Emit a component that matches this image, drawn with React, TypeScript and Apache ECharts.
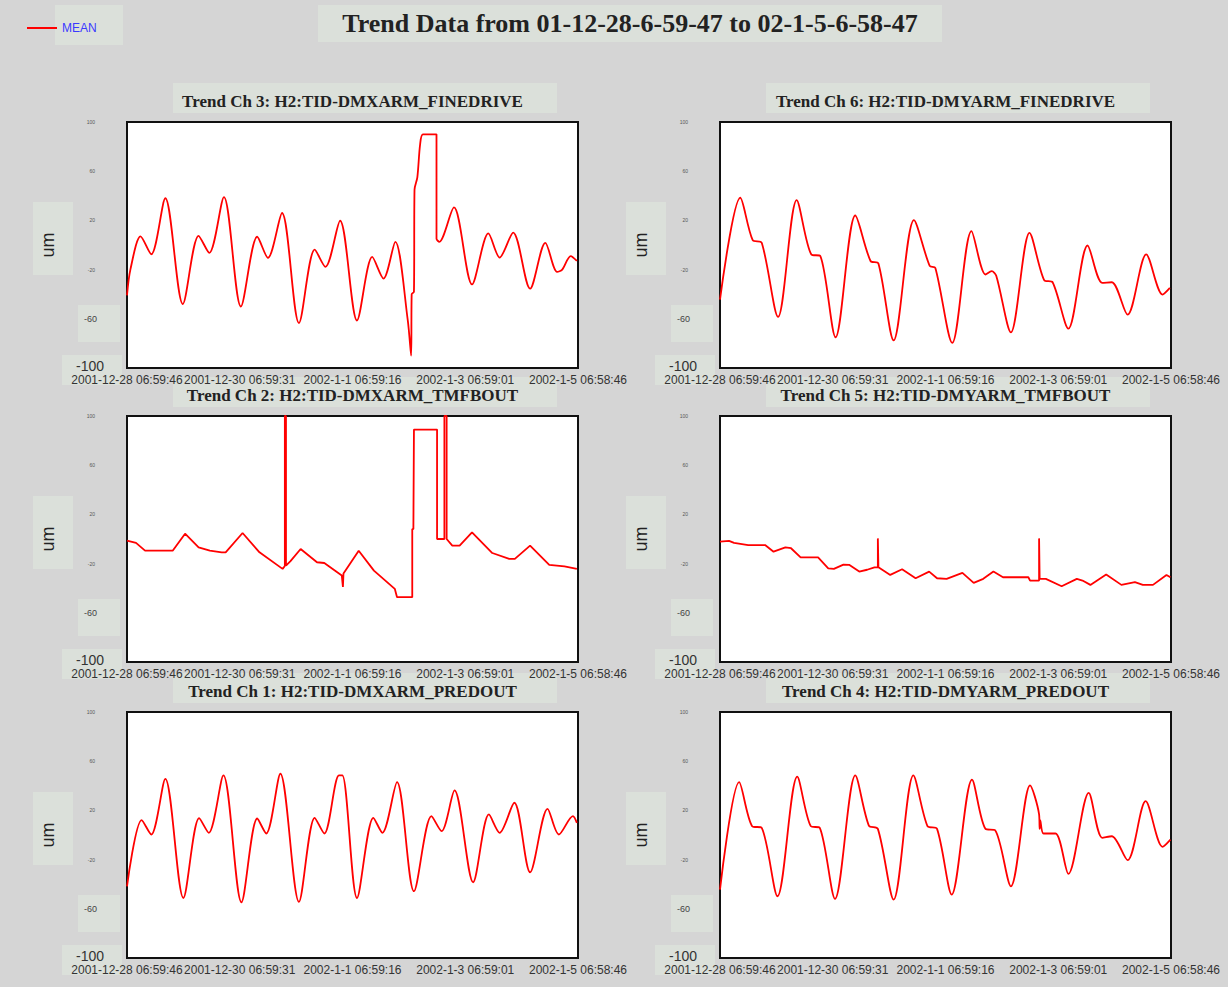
import React, { useEffect, useRef } from "react";
import * as echarts from "echarts";

const MAIN_TITLE = "Trend Data from 01-12-28-6-59-47 to 02-1-5-6-58-47";
const LEGEND_NAME = "MEAN";
const UNIT = "um";
const X_LABELS = [
  "2001-12-28 06:59:46",
  "2001-12-30 06:59:31",
  "2002-1-1 06:59:16",
  "2002-1-3 06:59:01",
  "2002-1-5 06:58:46",
];
const Y_LABELS = ["-100", "-60", "-20", "20", "60", "100"];

const PANEL_TITLES = [
  "Trend Ch 3: H2:TID-DMXARM_FINEDRIVE",
  "Trend Ch 6: H2:TID-DMYARM_FINEDRIVE",
  "Trend Ch 2: H2:TID-DMXARM_TMFBOUT",
  "Trend Ch 5: H2:TID-DMYARM_TMFBOUT",
  "Trend Ch 1: H2:TID-DMXARM_PREDOUT",
  "Trend Ch 4: H2:TID-DMYARM_PREDOUT",
];

// [day offset from start, value in um]
const CH3: number[][] = [
  [0, -41], [0.06, -20], [0.24, 7], [0.43, -7.5], [0.68, 38], [0.99, -48], [1.27, 7.5], [1.46, -6.4],
  [1.72, 39], [2.02, -50], [2.31, 6.7], [2.5, -10.5], [2.75, 26], [3.05, -63.5], [3.33, -3.7], [3.52, -17.8],
  [3.78, 19.7], [4.08, -61.4], [4.35, -9.7], [4.55, -27.3], [4.76, 2.6], [4.98, -61], [5.04, -90], [5.05, -40],
  [5.09, -38], [5.1, 45], [5.15, 55], [5.2, 82], [5.25, 90], [5.49, 90], [5.49, 5], [5.54, 2.6],
  [5.8, 30.6], [6.12, -32], [6.41, 9.4], [6.61, -10.2], [6.85, 10], [7.15, -35.5], [7.42, 1.8], [7.63, -21.9],
  [7.72, -20], [7.87, -9], [7.98, -13],
];
const CH6: number[][] = [
  [0, -44.4], [0.36, 38.4], [0.58, 3.9], [0.74, 1.8], [1.03, -58.5], [1.36, 36.5], [1.62, -7.7], [1.78, -9],
  [2.05, -75], [2.4, 24], [2.67, -13], [2.81, -15], [3.08, -77.5], [3.44, 20.2], [3.72, -17], [3.82, -18.6],
  [4.12, -79.6], [4.46, 11.3], [4.71, -24], [4.82, -21.3], [4.9, -25], [5.16, -71], [5.49, 9.9], [5.75, -28.6],
  [5.9, -30.3], [6.18, -68], [6.52, -0.4], [6.78, -30.8], [6.95, -30.3], [7.23, -56.6], [7.56, -7.7], [7.85, -40.3],
  [7.98, -34.9],
];
const CH2: number[][] = [
  [0, -1.4], [0.16, -3.2], [0.32, -9.5], [0.81, -9.5], [1.03, 4.3], [1.27, -6.8], [1.47, -9.5], [1.68, -10.8],
  [1.75, -10.8], [2.05, 4.9], [2.35, -10.8], [2.76, -24.3], [2.8, -22], [2.8, 100], [2.82, 100], [2.82, -21.6],
  [2.9, -18], [3.08, -8.1], [3.37, -18.9], [3.5, -19.5], [3.81, -29.7], [3.83, -39], [3.84, -28], [4.11, -9.5],
  [4.38, -25.7], [4.75, -40.5], [4.79, -47.3], [5.06, -47.3], [5.06, 8.1], [5.08, 8.1], [5.09, 89], [5.5, 89],
  [5.5, 0], [5.63, 0], [5.63, 100], [5.67, 100], [5.67, 0], [5.77, -5.4], [5.9, -5.4], [6.12, 5.4],
  [6.48, -11.4], [6.78, -16.2], [6.88, -16.2], [7.15, -5.4], [7.49, -21], [7.76, -22.2], [7.98, -24.3],
];
const CH5: number[][] = [
  [0, -2.2], [0.16, -1.5], [0.25, -3.2], [0.5, -4.9], [0.8, -4.9], [0.95, -10.3], [1.16, -6.8], [1.26, -7.5],
  [1.43, -14.9], [1.74, -14.9], [1.92, -23.8], [2.02, -24.3], [2.19, -20.8], [2.29, -21], [2.47, -26.5], [2.61, -25],
  [2.74, -23], [2.8, -23], [2.8, 0.5], [2.81, 0.5], [2.81, -23], [3.02, -29.2], [3.23, -24.6], [3.47, -31.9],
  [3.71, -26.5], [3.85, -31.9], [4.02, -32.4], [4.3, -27.6], [4.5, -35.7], [4.67, -32.4], [4.85, -26.5], [5.02, -31.1],
  [5.47, -31.1], [5.5, -33.8], [5.66, -33.8], [5.66, 0.5], [5.67, 0.5], [5.67, -32.4], [5.78, -32.4], [6.06, -38.4],
  [6.33, -32.4], [6.43, -33.8], [6.57, -37.3], [6.85, -28.9], [7.12, -37.3], [7.36, -35.1], [7.5, -37.3], [7.68, -37.3],
  [7.92, -29.2], [7.99, -31.1],
];
const CH1: number[][] = [
  [0, -41.7], [0.26, 12.1], [0.43, 0.4], [0.68, 45.7], [1.0, -51.2], [1.28, 13.7], [1.45, 1.8], [1.71, 48.4],
  [2.03, -54.7], [2.31, 13.4], [2.47, 1.2], [2.72, 49.8], [3.05, -54.4], [3.33, 14], [3.5, 1.2], [3.76, 48.4],
  [3.82, 48.4], [4.08, -51.2], [4.37, 14], [4.53, 1.8], [4.79, 43], [5.09, -45.7], [5.4, 15.3], [5.58, 3.1],
  [5.81, 36.2], [6.14, -38.4], [6.42, 16.7], [6.61, 1.8], [6.87, 26.2], [7.15, -30.3], [7.46, 21.3], [7.66, 0.4],
  [7.91, 15.3], [7.98, 9.9],
];
const CH4: number[][] = [
  [0, -44.4], [0.34, 43], [0.57, 7.2], [0.74, 5.8], [1.02, -49.8], [1.37, 47.4], [1.61, 7.2], [1.77, 5.8],
  [2.04, -52], [2.4, 48.4], [2.64, 7.7], [2.8, 5], [3.08, -52.5], [3.43, 48.4], [3.68, 7.2], [3.85, 5],
  [4.11, -48.4], [4.47, 45.1], [4.71, 5], [4.88, 3.9], [5.16, -41.7], [5.5, 40.3], [5.66, 16.7], [5.67, 5],
  [5.68, 12], [5.74, 1.2], [5.95, 1.2], [6.18, -31.6], [6.54, 34.3], [6.78, -2.3], [6.95, -1], [7.23, -20.5],
  [7.55, 27.5], [7.85, -9.6], [7.99, -3.7],
];

const PANEL_DATA = [CH3, CH6, CH2, CH5, CH1, CH4];
const PANEL_SMOOTH = [0.3, 0.3, false, false, 0.3, 0.3];

const COLS = [127, 720];
const ROWS = [122, 416, 712];
const GW = 451;
const GH = 246;

const BG = "#d5d5d5";
const BOX = "#dbe0da";
const GRIDLINE = "#c4c4c4";

export default function App() {
  const ref = useRef<HTMLDivElement>(null);
  useEffect(() => {
    if (!ref.current) return;
    const chart = echarts.init(ref.current, null, { renderer: "svg" });

    const grids: any[] = [];
    const xAxes: any[] = [];
    const yAxes: any[] = [];
    const series: any[] = [];
    const titles: any[] = [
      {
        text: MAIN_TITLE,
        left: 630,
        top: 10,
        textAlign: "center",
        padding: 0,
        textStyle: { fontFamily: "Liberation Serif", fontWeight: "bold", fontSize: 26, color: "#222" },
      },
    ];
    const graphics: any[] = [
      { type: "rect", z: -1, shape: { x: 55, y: 5, width: 68, height: 40 }, style: { fill: BOX } },
      { type: "rect", z: -1, shape: { x: 318, y: 5, width: 624, height: 37 }, style: { fill: BOX } },
    ];

    PANEL_DATA.forEach((data, i) => {
      const gx = COLS[i % 2];
      const gy = ROWS[Math.floor(i / 2)];
      grids.push({
        left: gx,
        top: gy,
        width: GW,
        height: GH,
        show: true,
        backgroundColor: "#ffffff",
        borderColor: "#111",
        borderWidth: 2,
        z: 1,
      });
      xAxes.push({
        type: "value",
        gridIndex: i,
        min: 0,
        max: 8,
        interval: 1,
        axisLine: { show: false },
        axisTick: { show: false },
        axisLabel: { show: false },
        splitLine: { show: true, showMinLine: false, showMaxLine: false, lineStyle: { color: GRIDLINE, type: [8, 6], width: 1 } },
      });
      xAxes.push({
        type: "value",
        gridIndex: i,
        min: 0,
        max: 8,
        interval: 2,
        position: "bottom",
        axisLine: { show: false },
        axisTick: { show: false },
        axisLabel: {
          show: true,
          showMinLabel: true,
          showMaxLabel: true,
          hideOverlap: false,
          margin: 6,
          fontSize: 12,
          fontFamily: "Liberation Sans",
          color: "#333",
          formatter: (v: number) => X_LABELS[Math.round(v / 2)] ?? "",
        },
        splitLine: { show: true, showMinLine: false, showMaxLine: false, lineStyle: { color: GRIDLINE, width: 1 } },
      });
      yAxes.push({
        type: "value",
        gridIndex: i,
        min: -100,
        max: 100,
        interval: 20,
        axisLine: { show: false },
        axisTick: { show: false },
        axisLabel: { show: false },
        splitLine: { show: true, showMinLine: false, showMaxLine: false, lineStyle: { color: GRIDLINE, type: [8, 6], width: 1 } },
      });
      yAxes.push({
        type: "value",
        gridIndex: i,
        min: 0,
        max: 200,
        interval: 40,
        position: "left",
        name: UNIT,
        nameLocation: "middle",
        nameRotate: 90,
        nameGap: 70,
        nameTextStyle: { fontSize: 18, fontFamily: "Liberation Sans", color: "#222" },
        axisLine: { show: false },
        axisTick: { show: false },
        axisLabel: {
          show: true,
          showMinLabel: true,
          showMaxLabel: true,
          hideOverlap: false,
          margin: 23,
          formatter: (v: number) => {
            const t = Y_LABELS[Math.round(v / 40)] ?? "";
            if (t === "-100") return "{b|" + t + "}";
            if (t === "-60") return "{m|" + t + "}";
            return "{s|" + t + "}";
          },
          rich: {
            b: { fontSize: 14, fontFamily: "Liberation Sans", color: "#333", padding: [0, 0, 4, 0] },
            m: { fontSize: 9, fontFamily: "Liberation Sans", color: "#444", padding: [0, 7, 0, 0] },
            s: { fontSize: 5, fontFamily: "Liberation Sans", color: "#555", padding: [0, 9, 0, 0] },
          },
        },
        splitLine: { show: true, showMinLine: false, showMaxLine: false, lineStyle: { color: GRIDLINE, width: 1 } },
      });
      series.push({
        type: "line",
        name: LEGEND_NAME,
        xAxisIndex: i * 2,
        yAxisIndex: i * 2,
        data,
        showSymbol: false,
        smooth: PANEL_SMOOTH[i],
        clip: true,
        lineStyle: { color: "#ff0000", width: 1.8 },
        itemStyle: { color: "#ff0000" },
        z: 3,
      });
      titles.push({
        text: PANEL_TITLES[i],
        left: gx + GW / 2,
        top: gy - 29,
        textAlign: "center",
        padding: 0,
        textStyle: { fontFamily: "Liberation Serif", fontWeight: "bold", fontSize: 17, color: "#222" },
      });
      graphics.push(
        { type: "rect", z: -1, shape: { x: gx + 46, y: gy - 39, width: 384, height: 30 }, style: { fill: BOX } },
        { type: "rect", z: -1, shape: { x: gx - 94, y: gy + 80, width: 40, height: 73 }, style: { fill: BOX } },
        { type: "rect", z: -1, shape: { x: gx - 49, y: gy + 183, width: 42, height: 37 }, style: { fill: BOX } },
        { type: "rect", z: -1, shape: { x: gx - 65, y: gy + 233, width: 60, height: 30 }, style: { fill: BOX } }
      );
    });

    chart.setOption({
      animation: false,
      backgroundColor: BG,
      title: titles,
      legend: {
        left: 22,
        top: 17,
        data: [LEGEND_NAME],
        icon: "rect",
        itemWidth: 30,
        itemHeight: 2,
        itemGap: 6,
        textStyle: { color: "#3a3aff", fontSize: 12, fontFamily: "Liberation Sans" },
      },
      grid: grids,
      xAxis: xAxes,
      yAxis: yAxes,
      series,
      graphic: graphics,
    });
    return () => chart.dispose();
  }, []);
  return (
    <div
      ref={ref}
      style={{ position: "fixed", left: 0, top: 0, width: "1228px", height: "987px" }}
    />
  );
}
